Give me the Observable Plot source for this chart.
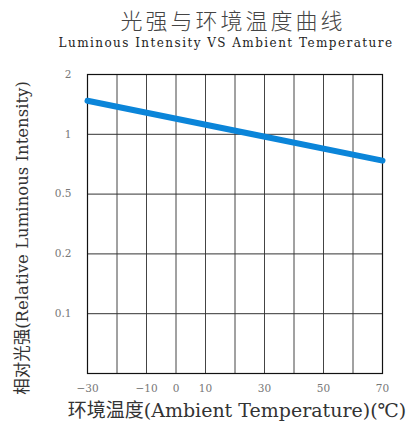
<!DOCTYPE html>
<html>
<head>
<meta charset="utf-8">
<script src="https://cdn.jsdelivr.net/npm/d3@7"></script>
<script src="https://cdn.jsdelivr.net/npm/@observablehq/plot@0.6"></script>
<style>
  html, body { margin: 0; padding: 0; background: #fff; }
  #wrap { width: 406px; height: 433px; overflow: hidden; position: relative; }
  #head { height: 55px; position: relative; }
  #title { position: absolute; left: 0; width: 466px; top: 5px; text-align: center;
    font-family: "Noto Sans CJK SC", sans-serif; font-weight: 300; font-size: 22px; line-height: 28px;
    letter-spacing: 3px; color: #444; }
  #subtitle { position: absolute; left: 0; width: 452px; top: 34px; text-align: center;
    font-family: "DejaVu Serif", "Liberation Serif", serif; font-size: 12px; line-height: 18px;
    letter-spacing: 1.45px; color: #222; }
  svg { display: block; }
</style>
</head>
<body>
<div id="wrap">
  <div id="head">
    <div id="title">光强与环境温度曲线</div>
    <div id="subtitle">Luminous Intensity VS Ambient Temperature</div>
  </div>
  <div id="chart"></div>
</div>
<script>
// Data
const temperature = [-30, 26, 70];            // °C
const relIntensity = [1.56, 1.0, 0.78];        // relative luminous intensity
const xTicks = [-30, -10, 0, 10, 30, 50, 70];
const xGrid = [-30, -20, -10, 0, 10, 20, 30, 40, 50, 60, 70];
const yLevels = [0, 0.1, 0.2, 0.5, 1, 2];     // equally spaced rows
const yTickValues = [0.1, 0.2, 0.5, 1, 2];
const yTickLabels = ["0.1", "0.2", "0.5", "1", "2"];
const yLabel = "相对光强(Relative Luminous Intensity)";
const xLabel = "环境温度(Ambient Temperature)(℃)";

const data = temperature.map((t, i) => ({t, v: relIntensity[i]}));

const W = 406, H = 378, mT = 19, mB = 60, mL = 87, mR = 24;
const serif = "DejaVu Serif, Liberation Serif, Noto Sans CJK SC, serif";

const chart = Plot.plot({
  width: W,
  height: H,
  marginTop: mT,
  marginBottom: mB,
  marginLeft: mL,
  marginRight: mR,
  style: {background: "#fff", overflow: "visible"},
  x: {domain: [-30, 70]},
  y: {type: "linear", domain: yLevels, range: [H - mB, mT]},
  marks: [
    Plot.ruleX(xGrid, {stroke: "#444", strokeWidth: 1}),
    Plot.ruleY(yLevels, {stroke: "#333", strokeWidth: 1}),
    Plot.frame({stroke: "#111", strokeWidth: 1.2}),
    Plot.line(data, {x: "t", y: "v", stroke: "#0b85d9", strokeWidth: 6}),
    Plot.axisX(xTicks, {tickSize: 0, tickPadding: 11, label: null,
      fontSize: 10.5, fill: "#777", fontFamily: serif}),
    Plot.axisY(yTickValues, {tickSize: 0, tickPadding: 16, label: null,
      tickFormat: (d) => yTickLabels[yTickValues.indexOf(d)],
      fontSize: 10.5, fill: "#777", fontFamily: serif}),
    Plot.text([yLabel], {frameAnchor: "left", textAnchor: "middle", dx: -65, dy: 14, rotate: -90,
      fontSize: 16.5, fill: "#333", fontFamily: serif}),
    Plot.text([xLabel], {frameAnchor: "bottom", textAnchor: "middle", dx: 2, dy: 43,
      fontSize: 19, fill: "#333", fontFamily: serif})
  ]
});
document.getElementById("chart").appendChild(chart);
</script>
</body>
</html>
